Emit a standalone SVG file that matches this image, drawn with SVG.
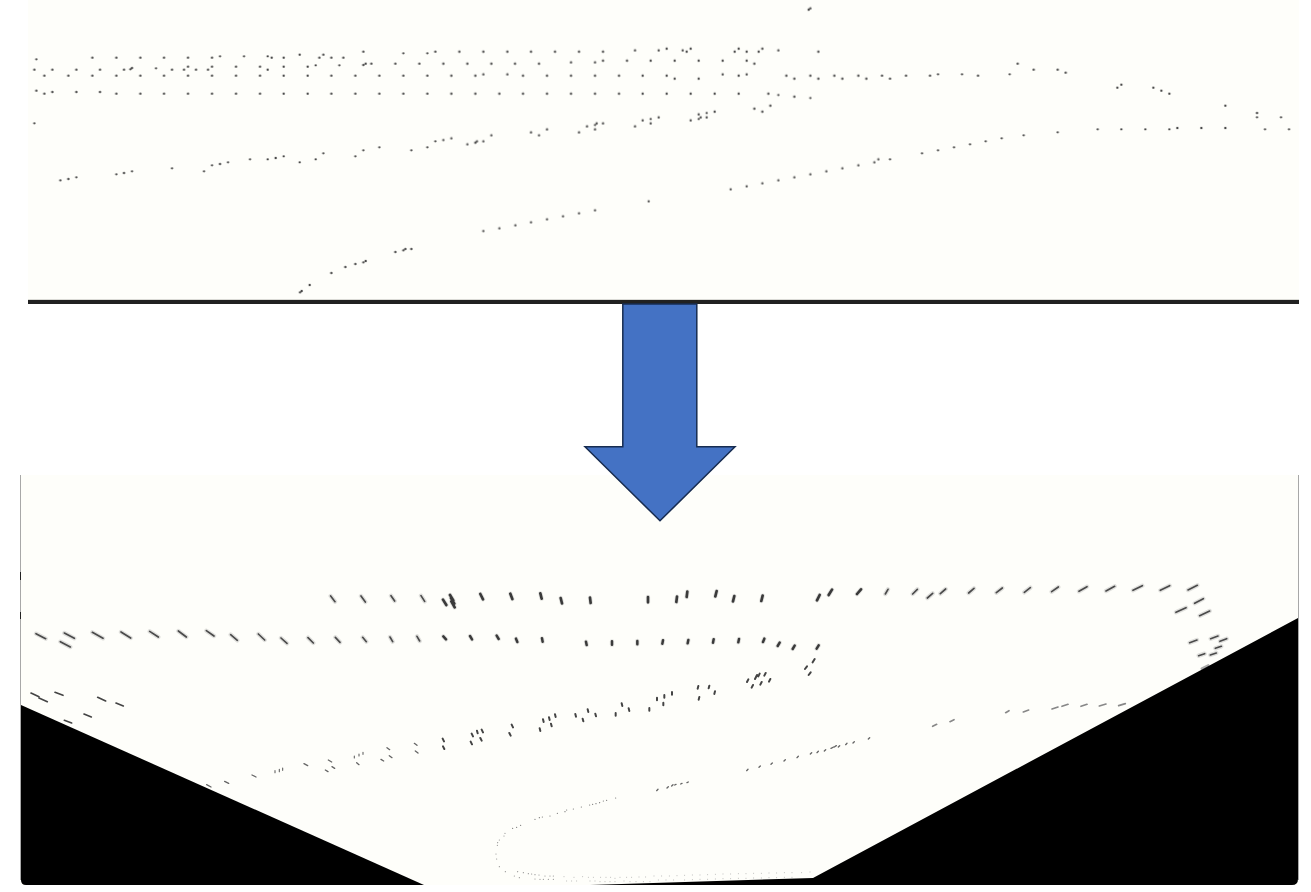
<svg xmlns="http://www.w3.org/2000/svg" width="1311" height="892" viewBox="0 0 1311 892">
<style>
.dots{fill:none;stroke:#484848;stroke-width:7;stroke-linecap:round}
.dash{fill:none;stroke:#444;stroke-linecap:round}
.halo{stroke:#777;stroke-width:13;opacity:.22}
.core{stroke:#3a3a3a;stroke-width:6}
.corel{stroke:#4a4a4a;stroke-width:5}
.w2{stroke-width:5}
.w3{stroke-width:4;stroke:#666}
.w4{stroke-width:3.400;stroke:#666}
.w5{stroke-width:2.800;stroke:#aaa}
.w6{stroke-width:3.400;stroke:#888}
</style>
<defs>
<filter id="soft" x="-5%" y="-5%" width="110%" height="110%"><feGaussianBlur stdDeviation="1.2"/></filter>
<path id="left-marks" d="M992 108L1005 125M1083 108L1096 126M1173 107L1184 123M1263 107L1274 124M108 221L137 236M193 219L223 235M181 245L211 261M277 217L309 235M363 216L392 234M449 214L475 231M535 213L559 231M619 212L642 228M692 224L712 241M775 222L794 240M843 234L861 250M924 233L940 249M1006 232L1020 247M1088 232L1099 245M1170 231L1178 245M1251 229L1259 243"/>
<path id="row-one" d="M9 119L19 135M30 105L40 121M33 114L43 131M34 124L44 142M121 102L129 118M211 101L217 117M301 100L305 116M362 114L366 130M450 113L452 129M624 111L624 127M711 110L709 126M742 95L740 111M830 93L826 109M883 108L879 124M968 107L964 123M1139 105L1131 121M1176 89L1166 105M1263 88L1251 102"/>
<path id="row-two" d="M10 229L18 238M90 228L96 238M170 227L176 237M228 236L232 246M306 235L308 245M438 245L440 255M516 244L516 254M592 243L592 253M669 241L667 251M745 240L743 250M821 238L819 248M897 237L895 247M973 236L969 246M1019 248L1013 258M1064 257L1058 267M1136 256L1130 266"/>
<path id="right-marks" d="M54 88L46 102M142 88L128 102M188 100L172 114M227 87L211 101M312 85L296 99M397 84L379 98M481 83L463 97M565 81L545 95M651 80L627 94M734 79L708 93M817 77L789 91M899 77L871 91M982 76L954 90M1000 116L974 130M948 143L918 157M1019 153L989 167M981 240L959 248M1044 228L1022 236M1070 236L1050 244M1054 259L1036 265M1004 281L986 287M1039 279L1021 285"/>
</defs>
<rect width="1311" height="892" fill="#fff"/>
<g id="top-panel">
<rect x="28" y="0" width="1271" height="300" fill="#fefefa"/>
<g transform="scale(.33333)" class="dots" filter="url(#soft)">
<path d="M109 178h0M277 173h0M349 173h0M421 173h0M492 173h0M564 173h0M636 173h0M660 169h0M732 169h0M803 169h0M815 173h0M851 173h0M899 164h0M958 173h0M970 164h0M994 173h0M1030 173h0M1090 155h0M1210 160h0M1282 160h0M1306 155h0M103 209h0M157 209h0M229 209h0M300 209h0M372 209h0M391 208h0M396 204h0M468 205h0M516 209h0M552 209h0M564 200h0M588 209h0M624 209h0M636 200h0M708 200h0M780 200h0M803 209h0M851 200h0M923 200h0M947 196h0M1018 196h0M1090 195h0M1097 191h0M1114 191h0M1186 191h0M1258 191h0M133 227h0M205 227h0M277 227h0M349 227h0M421 227h0M492 227h0M564 227h0M636 227h0M708 227h0M780 227h0M851 227h0M923 227h0M994 227h0M1066 227h0M1138 227h0M1210 227h0M1282 227h0M109 272h0M133 281h0M157 276h0M229 276h0M300 276h0M349 281h0M421 281h0M492 281h0M564 281h0M636 281h0M708 281h0M780 281h0M851 281h0M923 281h0M994 281h0M1066 281h0M1138 281h0M1210 281h0M1282 281h0M103 370h0M181 541h0M205 537h0M229 532h0M349 523h0M372 519h0M396 514h0M516 505h0M612 514h0M636 496h0M660 492h0M684 487h0M750 478h0M803 478h0M827 474h0M851 469h0M899 487h0M947 478h0M970 460h0M1066 469h0M1090 451h0M1138 442h0M1234 451h0M1282 442h0M1306 424h0M900 877h0M905 873h0M929 855h0M994 819h0M1036 801h0M1066 792h0M1090 787h0M1097 783h0M1186 756h0M1210 751h0M1216 747h0M1234 747h0"/>
<path transform="translate(1320 0)" d="M1106 29h0M1111 25h0M58 155h0M130 155h0M202 155h0M273 155h0M345 155h0M417 155h0M489 155h0M585 151h0M656 151h0M680 146h0M728 151h0M740 155h0M752 146h0M884 155h0M896 146h0M920 155h0M956 155h0M967 146h0M1015 151h0M1135 155h0M10 191h0M82 191h0M154 191h0M225 191h0M297 191h0M393 187h0M465 187h0M489 182h0M561 182h0M632 182h0M704 182h0M776 182h0M848 182h0M920 182h0M943 191h0M34 227h0M106 227h0M130 223h0M202 223h0M249 227h0M321 227h0M393 227h0M465 227h0M537 227h0M608 227h0M680 227h0M704 236h0M776 236h0M848 223h0M896 227h0M920 223h0M1039 227h0M1063 236h0M1111 227h0M1135 236h0M1183 227h0M1207 236h0M1255 227h0M1279 236h0M34 281h0M106 281h0M178 281h0M249 281h0M321 281h0M393 281h0M465 281h0M537 281h0M608 281h0M680 281h0M752 281h0M824 281h0M896 281h0M985 281h0M1015 285h0M1063 290h0M1111 294h0M943 326h0M967 335h0M991 317h0M10 420h0M34 415h0M82 433h0M106 428h0M111 424h0M130 424h0M154 406h0M273 397h0M297 406h0M321 388h0M417 397h0M441 379h0M465 375h0M470 370h0M489 370h0M465 388h0M585 379h0M608 361h0M632 357h0M632 370h0M656 352h0M752 361h0M776 343h0M776 357h0M782 352h0M800 339h0M800 352h0M824 335h0M130 693h0M178 685h0M226 676h0M273 667h0M321 658h0M369 649h0M417 640h0M465 631h0M626 604h0M872 568h0M920 559h0M967 550h0M1015 541h0M1063 532h0M1111 523h0M1159 514h0M1207 505h0M1255 496h0M1303 487h0M1315 478h0"/>
<path transform="translate(2610 0)" d="M36 227h0M60 236h0M108 227h0M180 227h0M204 223h0M276 223h0M324 227h0M419 223h0M443 191h0M491 209h0M563 209h0M587 218h0M742 263h0M754 254h0M850 263h0M874 272h0M898 281h0M1066 317h0M1161 339h0M1161 352h0M1233 352h0M683 388h0M754 388h0M826 388h0M898 388h0M922 384h0M994 384h0M1066 384h0M1185 388h0M1257 388h0M60 478h0M156 460h0M204 451h0M252 442h0M300 433h0M347 424h0M395 415h0M461 406h0M563 397h0"/>
</g>
<rect x="28" y="299.500" width="1271" height="1" fill="#b5b5b0"/>
<rect x="28" y="300" width="1271" height="4" fill="#212121"/>
</g>
<g id="bottom-panel">
<rect x="20.500" y="475" width="1278" height="410" fill="#fefefa"/>
<g transform="translate(0 560) scale(.33333)" class="dash">
<use href="#left-marks" class="halo"/>
<use href="#left-marks" class="corel"/>
<path class="w2" d="M93 399L117 410M117 414L142 425M165 397L189 406M293 412L317 423M348 429L370 438M252 462L274 471M193 481L215 489"/>
<path class="w3" d="M912 611l11 6M985 600l10 6M1161 563l8 6M1243 550l8 6M1246 573l8 6M976 630l8 5M996 620l8 5M1143 598l8 5M1168 587l8 6M1070 608l7 6M756 645l12 6M674 664l12 6M620 674l13 7"/>
<path class="w4" d="M825 632v6M838 628v7M848 624v7M1063 588v6M1077 582v6M1089 577v6"/>
</g>
<g transform="translate(440 560) scale(.33333)" class="dash">
<use href="#row-one" class="halo"/>
<use href="#row-one" class="core" style="stroke-width:8"/>
<use href="#row-two" class="halo"/>
<use href="#row-two" class="core" style="stroke-width:7.500"/>
<path style="stroke-width:6;stroke:#444" d="M10 540m-2-4l4 8M11 563m-2-4l4 8M97 525m-2-4l4 8M112 516m-1-4l2 8M127 513m-2-4l4 8M94 549m-2-4l4 8M123 538m-2-4l4 8M217 498m-2-4l4 8M210 523m-2-4l4 8M310 482m-1-4l2 8M328 476m-1-4l2 8M346 467m-1-4l2 8M300 509m-1-4l2 8M334 495m-1-4l2 8M407 466m-1-4l2 8M444 452m-1-4l2 8M467 465m-1-4l2 8M429 480m-1-4l2 8M527 463m0-4v8M546 434m-1-4l2 8M567 449m-1-4l2 8M628 448m0-4v8M651 417m0-4v8M673 409m0-4v8M696 400m0-4v8M670 432m0-4v8M774 382m1-4l-2 8M807 381m1-4l-2 8M824 398m1-4l-2 8M777 415m1-4l-2 8M923 362m2-4l-4 8M948 351m3-6l-6 12M957 345m2-4l-4 8M975 343m2-4l-4 8M989 361m2-4l-4 8M963 370m2-4l-4 8M937 379m2-4l-4 8M1098 323m3-4l-6 8M1121 302m3-5l-6 10M1109 341m3-4l-6 8"/>
<path class="w3" d="M922 630m2-2l-4 4M959 620m2-2l-4 4M995 611m2-2l-4 4M1034 601m2-2l-4 4M1073 591m2-2l-4 4M1113 580m2-2l-4 4M1133 576m2-2l-4 4M1155 571m2-2l-4 4M1177 563m4-2l-8 4M1186 559m3-2l-6 4M1197 559m2-2l-4 4M1219 552m2-2l-4 4M1241 547m2-2l-4 4M1287 535m2-2l-4 4M652 690m2-2l-4 4M683 682m2-2l-4 4M697 676m2-2l-4 4M706 674m2-1l-4 2M724 671m2-1l-4 2M743 667m2-1l-4 2"/>
<path class="w4" d="M527 714h0M500 721h0M490 723h0M479 728h0M468 731h0M458 733h0M449 735h0M424 741h0M400 747h0M380 750h0M375 755h0M352 760h0M330 768h0M307 771h0M298 773h0M285 778h0M242 796h0M230 802h0M218 805h0"/>
<path class="w6" d="M195 820h0M192 828h0M178 840h0M173 848h0M172 856h0M168 882h0M170 897h0M178 920h0M196 935h0M233 935h0M250 938h0M265 941h0M275 942h0M285 944h0M297 945h0M315 948h0M330 948h0M340 948h0M223 948h0M238 953h0M285 957h0M300 958h0M310 958h0M325 958h0M340 958h0"/>
<path class="w5" d="M372 950h0M402 952h0M428 950h0M445 952h0M460 952h0M482 952h0M498 952h0M512 952h0M525 955h0M540 952h0M560 952h0M575 952h0M597 951h0M617 951h0M642 948h0M665 948h0M688 948h0M711 947h0M734 946h0M757 945h0M780 945h0M803 944h0M826 943h0M849 942h0M872 942h0M895 941h0M918 941h0M941 940h0M964 940h0M987 939h0M1010 939h0M1033 938h0M1056 938h0M1085 938h0M1110 936h0M380 963h0M395 963h0M410 963h0M450 963h0M465 963h0M480 965h0M495 965h0M510 965h0M525 965h0M552 963h0M570 965h0M588 965h0M610 965h0M630 965h0M655 960h0M678 960h0M701 960h0M734 960h0M757 959h0M780 958h0M803 958h0M826 957h0M849 956h0M872 956h0M895 955h0M918 955h0M941 954h0M964 954h0M987 953h0M1010 953h0M1033 952h0M1056 952h0"/>
</g>
<g transform="translate(870 560) scale(.33333)" class="dash">
<use href="#right-marks" class="halo"/>
<use href="#right-marks" class="corel"/>
<path class="w2" style="stroke:#888" d="M417 452L407 458M476 450L460 456M564 441L546 447M594 433L576 439M651 433L633 439M708 432L688 438M766 431L746 437M200 493L188 499M252 479L240 485"/>
<path style="stroke:#aaa;stroke-width:7" d="M1015 316L995 326"/>
</g>
<path id="left-wedge" d="M21 705L424 885H26Q21 885 21 880Z" fill="#000"/>
<path id="right-wedge" d="M1298 618V879Q1298 885 1292 885H590L813 878Z" fill="#000"/>
<rect x="20" y="475" width="1" height="405" fill="#a8a8a8"/>
<rect x="20" y="572" width="1" height="8" fill="#222"/>
<rect x="20" y="612" width="1" height="7" fill="#222"/>
<rect x="1298" y="475" width="1" height="405" fill="#a8a8a8"/>
</g>
<g id="arrow">
<path d="M622.800 304H696.800V446.800H735L660 520.800L585 446.800H622.800Z" fill="#4472c4" stroke="#172c51" stroke-width="1.500"/>
</g>
</svg>
